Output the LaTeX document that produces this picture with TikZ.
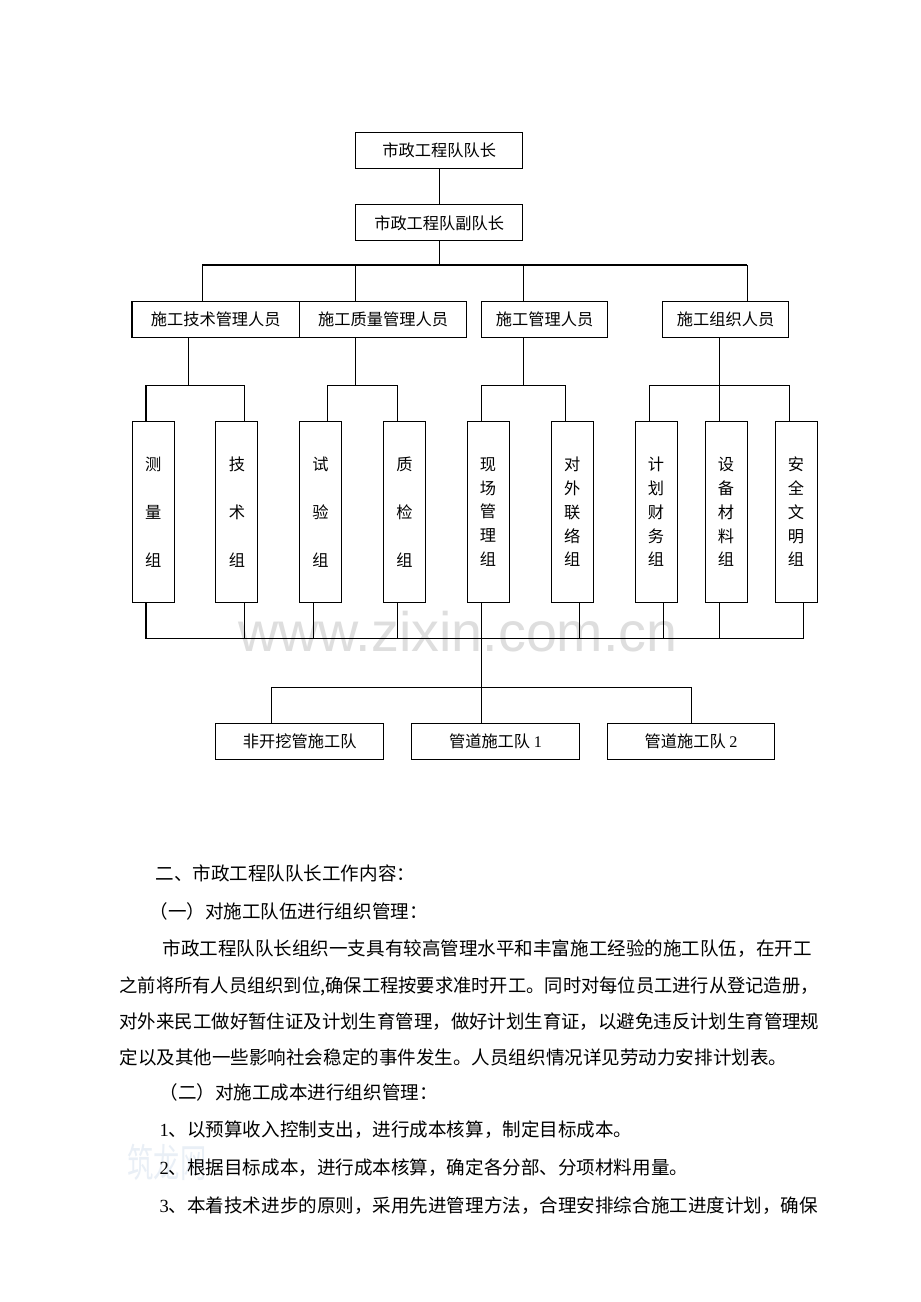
\documentclass[tikz,border=0pt]{standalone}
\usepackage{fontspec}
\setmainfont{Liberation Serif}
\setsansfont{Liberation Sans}
\newfontfamily\cjk{Noto Sans CJK SC}
\usepackage{graphicx}
\usepackage{tikz}
\definecolor{wmark}{RGB}{222,222,222}
\definecolor{wmarkb}{RGB}{233,239,246}
\newcommand\pxu{0.647pt}

\begin{document}
\begin{tikzpicture}[x=0.647pt, y=-0.647pt, line width=0.65pt,
  box/.style={draw, line width=0.65pt, inner sep=0pt, font=\cjk\fontsize{10.5}{12}\selectfont},
  wide/.style={box, minimum width=167.5*\pxu, minimum height=36*\pxu},
  mid/.style={box, minimum width=126*\pxu, minimum height=36*\pxu},
  vthree/.style={box, align=center, minimum width=42*\pxu, minimum height=180.6*\pxu,
    font=\cjk\fontsize{10.5}{31.2}\selectfont},
  vfive/.style={vthree, font=\cjk\fontsize{10.5}{15.4}\selectfont},
  para/.style={anchor=west, inner sep=0pt, font=\cjk\fontsize{12}{14}\selectfont}]
  \fill[white] (0,0) rectangle (920,1302);
  \useasboundingbox (0,0) rectangle (920,1302);

  \node[anchor=base west, inner sep=0pt, text=wmark, font=\sffamily\fontsize{36}{36}\selectfont]
    (mark) at (238,651.7) {www.zixin.com.cn};
  \node[inner sep=0pt, text=wmarkb, font=\cjk\fontsize{17}{17}\selectfont]
    (markb) at (167,1162) {\scalebox{1}[1.5]{筑龙网}};

  \node[wide] (lead) at (439.2,150.7) {市政工程队队长};
  \node[wide] (dep) at (439.2,222.9) {市政工程队副队长};

  \node[wide] (tech) at (215.75,319.5) {施工技术管理人员};
  \node[wide] (qual) at (383.15,319.5) {施工质量管理人员};
  \node[mid] (site) at (544.65,319.5) {施工管理人员};
  \node[mid] (org) at (725.65,319.5) {施工组织人员};

  \node[vthree] (b1) at (153.2,512) {测\\量\\组};
  \node[vthree] (b2) at (236.9,512) {技\\术\\组};
  \node[vthree] (b3) at (320.6,512) {试\\验\\组};
  \node[vthree] (b4) at (404.4,512) {质\\检\\组};
  \node[vfive] (b5) at (488.1,512) {现\\场\\管\\理\\组};
  \node[vfive] (b6) at (572.2,512) {对\\外\\联\\络\\组};
  \node[vfive] (b7) at (656.1,512) {计\\划\\财\\务\\组};
  \node[vfive] (b8) at (726.1,512) {设\\备\\材\\料\\组};
  \node[vfive] (b9) at (796.1,512) {安\\全\\文\\明\\组};

  \node[wide] (t1) at (299.7,741.3) {非开挖管施工队};
  \node[wide] (t2) at (495.5,741.3) {管道施工队 {\rmfamily 1}};
  \node[wide] (t3) at (691.1,741.3) {管道施工队 {\rmfamily 2}};

  \coordinate (bus) at (439.2,265);
  \draw (lead) -- (dep);
  \draw (dep) -- (bus);
  \draw (202,265) -- (747,265);
  \foreach \x/\n in {202/tech, 355.5/qual, 523/site, 747/org}
    \draw (\x,265) -- (\n.north -| \x,265);

  \foreach \x/\n in {188/tech, 355.5/qual, 523/site, 719/org}
    \draw (\n.south -| \x,0) -- (\x,385.7);
  \draw (b1.north -| 146,0) -- (146,385.7) -| (b2.north -| 244,0);
  \draw (b3.north -| 327.7,0) -- (327.7,385.7) -| (b4.north -| 397,0);
  \draw (b5.north -| 481.6,0) -- (481.6,385.7) -| (b6.north -| 565.5,0);
  \draw (b7.north -| 649.4,0) -- (649.4,385.7) -| (b9.north -| 789.3,0);
  \draw (b8.north -| 719,0) -- (719,385.7);

  \draw (b1.south -| 146,0) -- (146,638.3) -- (803.3,638.3) -- (b9.south -| 803.3,0);
  \foreach \x/\n in {244/b2, 313.8/b3, 397/b4, 579.4/b6, 663.7/b7, 719/b8}
    \draw (\n.south -| \x,0) -- (\x,638.3);
  \draw (b5.south -| 481.6,0) -- (481.6,687.3);
  \draw (271.6,687.3) -- (691,687.3);
  \foreach \x/\n in {271.6/t1, 481.6/t2, 691/t3}
    \draw (\x,687.3) -- (\n.north -| \x,0);

  \node[para] (l1) at (155,873) {二、市政工程队队长工作内容：};
  \node[para] (l2) at (149,911) {（一）对施工队伍进行组织管理：};
  \node[para] (l3) at (162,949) {市政工程队队长组织一支具有较高管理水平和丰富施工经验的施工队伍，在开工};
  \node[para] (l4) at (119,986) {\scalebox{0.985}[1]{之前将所有人员组织到位,确保工程按要求准时开工。同时对每位员工进行从登记造册，}};
  \node[para] (l5) at (119,1022) {\scalebox{0.993}[1]{对外来民工做好暂住证及计划生育管理，做好计划生育证，以避免违反计划生育管理规}};
  \node[para] (l6) at (119,1057) {定以及其他一些影响社会稳定的事件发生。人员组织情况详见劳动力安排计划表。};
  \node[para] (l7) at (159,1092) {（二）对施工成本进行组织管理：};
  \node[para] (l8) at (159,1130) {{\rmfamily 1}、以预算收入控制支出，进行成本核算，制定目标成本。};
  \node[para] (l9) at (159,1168) {{\rmfamily 2}、根据目标成本，进行成本核算，确定各分部、分项材料用量。};
  \node[para] (l10) at (159,1206) {{\rmfamily 3}、本着技术进步的原则，采用先进管理方法，合理安排综合施工进度计划，确保};
\end{tikzpicture}
\end{document}
